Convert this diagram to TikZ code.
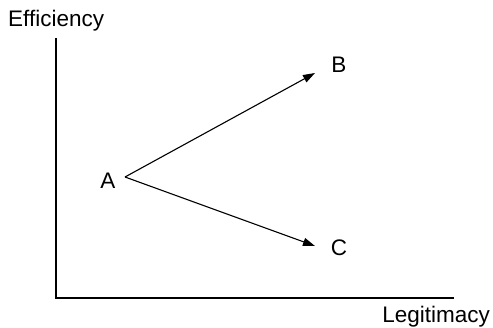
\documentclass[tikz,border=0pt]{standalone}
\usepackage{fontspec}
\setmainfont[Ligatures=NoCommon]{Liberation Sans}
\usetikzlibrary{positioning, arrows.meta}

\begin{document}
\begin{tikzpicture}[
    x=1pt, y=-1pt,
    every node/.style={font=\fontsize{22.5}{26}\selectfont, inner sep=0pt},
    axis/.style={line width=1.2pt},
    arr/.style={line width=1.1pt, -{Triangle[length=12pt, width=8pt]}}
  ]
    \useasboundingbox (0,0) rectangle (493,328);
    % axes
    \coordinate (origin) at (56,298);
    \coordinate (ytop) at (56,38);
    \coordinate (xend) at (454,298);
    \draw[axis] (ytop) -- (origin) -- (xend);
    \node[anchor=base west] (eff) at (8,27) {Efficiency};
    \node[anchor=base east] (leg) at (490,323) {Legitimacy};

    % points
    \coordinate (start) at (125,177);
    \coordinate (btip) at (315,73);
    \coordinate (ctip) at (315,246);
    \node[anchor=base] (a) at (108,189) {A};
    \node[anchor=base] (b) at (339,73) {B};
    \node[anchor=base] (c) at (339,256) {C};

    \draw[arr] (start) -- (btip);
    \draw[arr] (start) -- (ctip);
  \end{tikzpicture}
\end{document}
